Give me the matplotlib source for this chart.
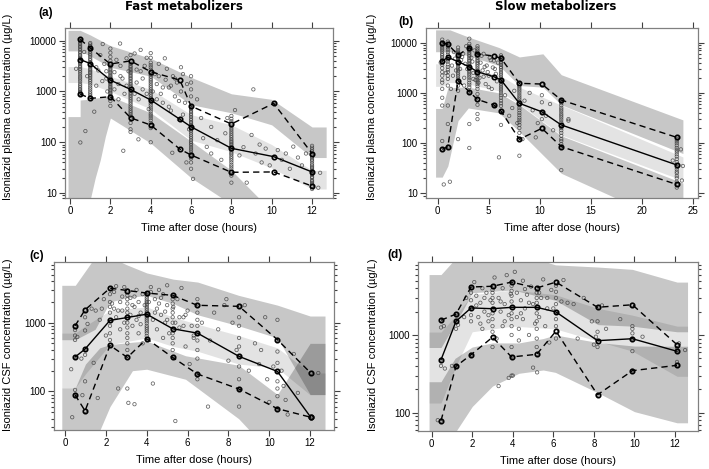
import matplotlib.pyplot as plt
import matplotlib.ticker as mticker

plt.rcParams['font.family'] = ['Liberation Sans', 'DejaVu Sans']

# ---------------- (a) fast metabolizers, plasma ----------------
a_pct_t = [0.5, 1, 2, 3, 4, 5.45, 6, 8, 10.1, 12]
a_p95 = [10600, 7200, 3480, 4000, 2450, 1670, 515, 229, 583, 60]
a_p50 = [4260, 3550, 1670, 1100, 680, 283, 202, 76, 52, 26]
a_p05 = [890, 730, 790, 303, 218, 73, 56, 25.6, 26, 13.7]

a_up_t = [-0.1, 0.5, 1, 2, 4, 6, 8, 10, 12, 12.7]
a_up_hi = [16000, 16000, 13000, 8000, 4500, 1900, 900, 700, 200, 200]
a_up_lo = [6300, 6300, 5000, 3000, 2000, 550, 380, 220, 50, 50]
a_med_t = [-0.1, 0.5, 1, 2, 4, 6, 8, 10, 12, 12.7]
a_med_hi = [3100, 3100, 2800, 2000, 1100, 350, 220, 90, 28, 28]
a_med_lo = [1500, 1500, 1400, 1000, 450, 110, 65, 31, 12, 12]
a_low_t = [-0.1, 0.5, 0.5, 0.9, 1.25, 1.5, 1.75, 2, 4, 6, 8, 9.5, 12.7]
a_low_hi = [320, 320, 680, 700, 740, 760, 780, 800, 380, 105, 28, 7, 3]
a_low_lo = [3, 3, 3, 5, 20, 45, 130, 300, 96, 20, 6, 3, 3]

a_cols = {
    0.5: [10500, 10100, 9800, 9200, 8600, 8000, 7500, 7000, 6500, 6000, 5600, 5200, 4900,
          4600, 4300, 4000, 3700, 3450, 3200, 3000, 2800, 2600, 2400, 2200, 2000, 1850, 1700,
          1550, 1400, 1300, 1200, 1120, 1050, 990, 950, 890, 870],
    1: [9000, 8400, 7800, 7200, 6600, 6100, 5600, 5200, 4800, 4400, 4100, 3800, 3550, 3300,
        3000, 2800, 2600, 2450, 2300, 2150, 2000, 1850, 1700, 1580, 1450, 1320, 1200, 1100,
        1000, 920, 850, 780, 730],
    2: [7000, 5800, 4800, 4000, 3480, 3200, 3000, 2800, 2600, 2450, 2300, 2150, 2000, 1900,
        1800, 1670, 1580, 1500, 1400, 1300, 1220, 1150, 1070, 1000, 940, 880, 830, 790, 650,
        520],
    3: [5200, 4000, 3500, 3200, 3000, 2800, 2600, 2450, 2300, 2150, 2000, 1870, 1750, 1620,
        1500, 1400, 1300, 1200, 1100, 1020, 950, 880, 820, 760, 700, 650, 600, 550, 500, 460,
        420, 390, 360, 330, 303, 240, 180, 160],
    4: [5700, 4600, 3700, 3300, 3000, 2700, 2450, 2250, 2100, 1950, 1800, 1670, 1550, 1420,
        1300, 1200, 1100, 1020, 950, 870, 800, 740, 680, 630, 580, 530, 480, 440, 400, 360,
        330, 300, 270, 240, 218, 190, 100],
    6: [2000, 1500, 1100, 800, 515, 480, 450, 420, 390, 365, 340, 315, 290, 270, 250, 235,
        220, 202, 190, 180, 168, 155, 142, 130, 120, 110, 102, 95, 88, 80, 74, 68, 62, 56, 52,
        48, 40, 30],
    8: [330, 290, 260, 229, 210, 190, 175, 160, 147, 135, 125, 115, 107, 100, 94, 88, 82,
        76, 71, 66, 61, 57, 52, 48, 44, 40, 36, 33, 30, 26, 24, 22, 16],
    12: [85, 78, 72, 66, 60, 56, 52, 48, 45, 42, 38, 35, 33, 31, 29, 27, 26, 24, 23, 21, 20,
         18, 17, 16, 15, 14, 13.7, 12],
}
a_obs_t = [0.76, 0.51, 0.3, 0.7, 0.85, 1.2, 1.3, 1.4, 1.5, 1.62, 1.7, 1.8, 1.85, 2.2, 2.3,
           2.4, 2.48, 2.5, 2.6, 2.64, 2.7, 2.8, 2.9, 3.2, 3.3, 3.39, 3.4, 3.5, 3.5, 3.6, 3.7,
           3.8, 3.9, 4.2, 4.3, 4.4, 4.5, 4.6, 4.7, 4.74, 4.8, 4.9, 5.0, 5.07, 5.1, 5.2, 5.3,
           5.4, 5.5, 5.5, 5.6, 5.7, 5.77, 5.8, 5.9, 6.1, 6.3, 6.5, 6.6, 6.78, 7.0, 7.0, 7.3,
           7.5, 7.7, 7.8, 8.18, 8.4, 8.6, 8.76, 9.0, 9.09, 9.2, 9.4, 9.5, 9.7, 9.9, 10.1,
           10.3, 10.5, 10.7, 10.9, 11.07, 11.3, 11.5, 11.7, 12.31, 12.4, 2.2, 2.5, 2.8, 3.3,
           3.6, 3.8, 4.3, 4.6, 4.9, 5.2, 5.4, 5.6, 1.3, 1.6, 1.8, 2.4, 3.2, 4.1, 4.4, 5.0]
a_obs_c = [166, 99, 2800, 6000, 2000, 400, 1300, 2600, 5200, 8600, 3500, 1800, 1000, 2400,
           4200, 1400, 8800, 3200, 1800, 68, 900, 4500, 2500, 5600, 1500, 114, 700, 6600, 2500,
           1100, 3200, 4600, 450, 2200, 1400, 3500, 900, 600, 4500, 1700, 2800, 1200, 420, 62,
           2000, 800, 1500, 280, 1000, 3000, 2200, 600, 40, 1400, 180, 19, 700, 300, 120, 81,
           200, 60, 110, 45, 150, 300, 430, 55, 80, 16, 139, 1100, 60, 90, 40, 75, 35, 583,
           70, 45, 60, 30, 82, 50, 35, 60, 12.7, 25, 1100, 2000, 1300, 2700, 1800, 900, 700,
           1200, 500, 1800, 650, 350, 3000, 1600, 2500, 700, 900, 1000, 2000, 1300]

# ---------------- (b) slow metabolizers, plasma ----------------
b_pct_t = [0.45, 1, 2, 3.1, 3.9, 5.5, 6.2, 8, 10.2, 12.1, 23.4]
b_p95 = [10000, 9300, 5700, 7900, 5950, 5430, 4900, 1550, 1500, 720, 130]
b_p50 = [4300, 5100, 4200, 3300, 2630, 2100, 1810, 620, 420, 230, 36.7]
b_p05 = [75, 85, 1750, 1050, 740, 575, 435, 119, 197, 85, 15]

b_up_t = [-0.2, 1.2, 3, 6, 8, 10.3, 12.1, 24]
b_up_hi = [18000, 18000, 13000, 8000, 5200, 6000, 2300, 290]
b_up_lo = [6600, 6600, 5500, 3500, 1400, 1300, 580, 62]
b_med_t = [-0.2, 0.45, 1, 2, 3, 6, 8, 12.1, 24]
b_med_hi = [3800, 3800, 3500, 3200, 2900, 2300, 1300, 570, 53]
b_med_lo = [1350, 1350, 1600, 1600, 1500, 1100, 600, 145, 18]
b_low_t = [-0.2, 0.45, 1, 2, 3, 6, 8, 12.1, 24]
b_low_hi = [490, 490, 1250, 1300, 1300, 1000, 580, 140, 16]
b_low_lo = [21, 21, 35, 280, 500, 400, 170, 25, 2]

b_cols = {
    0.45: [11500, 10000, 9200, 8500, 7800, 7200, 6600, 6000, 5600, 5200, 4800, 4300, 3900,
           3600, 3100, 2600, 2200, 1800, 1600, 1200, 800, 560, 110, 75],
    1.0: [10500, 9300, 8600, 8000, 7200, 6500, 5800, 5100, 4600, 4200, 3700, 3300, 2900,
          2600, 2200, 1900, 1400, 560, 240, 85],
    2.0: [8000, 7000, 6500, 6200, 5900, 5700, 5300, 5000, 4600, 4200, 3900, 3600, 3300, 3000,
          2750, 2500, 2300, 2100, 1900, 1750, 1400, 1100, 120],
    3.1: [12000, 9500, 8600, 7900, 7300, 6800, 6300, 5800, 5400, 5000, 4600, 4300, 4000, 3700,
          3500, 3300, 3000, 2800, 2600, 2400, 2200, 2000, 1800, 1600, 1450, 1300, 1050, 240,
          80],
    3.9: [8500, 7700, 7000, 6400, 5950, 5500, 5000, 4600, 4300, 4000, 3700, 3400, 3100, 2850,
          2630, 2400, 2200, 2000, 1800, 1650, 1500, 1350, 1200, 950, 740, 580, 380, 300],
    6.2: [5600, 5200, 4900, 4500, 4200, 3900, 3600, 3300, 3100, 2850, 2600, 2400, 2200, 2000,
          1810, 1680, 1550, 1420, 1300, 1200, 1100, 1000, 900, 800, 700, 620, 550, 435, 230],
    8.0: [1550, 1400, 1300, 1200, 1100, 1000, 900, 820, 750, 680, 620, 560, 500, 450, 400,
          360, 320, 290, 260, 230, 200, 160, 119, 56],
    10.2: [1500, 900, 650, 420, 300, 197],
    12.1: [720, 660, 620, 560, 500, 460, 420, 380, 350, 320, 290, 260, 230, 200, 180, 160,
           140, 120, 110, 95, 85, 29],
    23.4: [130, 120, 110, 100, 90, 80, 72, 66, 60, 54, 48, 42, 36, 33, 30, 27, 25, 22, 20, 17,
           15, 13],
}
b_obs_t = [0.6, 0.3, 0.8, 1.2, 1.4, 1.6, 1.8, 2.3, 2.5, 2.6, 2.8, 2.9, 3.3, 3.5, 3.6, 3.7,
           4.2, 4.4, 4.5, 4.7, 4.8, 5.0, 5.2, 5.3, 5.5, 5.6, 5.8, 5.9, 6.0, 6.6, 7.0, 7.3,
           7.5, 7.8, 8.3, 8.5, 9.0, 9.3, 9.6, 9.8, 10.6, 11.0, 11.3, 12.8, 12.8, 23.0, 23.8,
           24.0, 23.9, 1.5, 1.7, 2.2, 2.4, 2.7, 3.4, 4.1, 4.3, 4.6, 4.9, 5.1, 5.4, 5.7, 1.3,
           2.6, 3.5, 4.0, 4.5, 5.0, 5.5]
b_obs_c = [15, 4000, 2500, 17, 3500, 6500, 2800, 4500, 6000, 2000, 8500, 3000, 5000, 2500,
           7000, 1800, 4000, 2800, 6000, 1500, 3500, 2200, 4500, 1200, 575, 3000, 1700, 4000,
           52, 900, 350, 500, 1100, 250, 120, 700, 1000, 450, 130, 250, 350, 600, 180, 300,
           280, 45, 75, 35, 18, 2200, 4800, 3000, 5200, 3800, 4200, 2000, 5500, 3300, 2600,
           5000, 3200, 2400, 1200, 1400, 1900, 1600, 2100, 1300, 4400]

# ---------------- (c) fast metabolizers, CSF ----------------
c_pct_t = [0.49, 0.98, 2.2, 3.05, 4.0, 5.27, 6.48, 8.52, 10.4, 12.03]
c_p95 = [900, 1540, 3180, 2940, 2700, 2500, 1790, 1730, 565, 185]
c_p50 = [316, 413, 1080, 1190, 1330, 815, 705, 323, 195, 42]
c_p05 = [89, 52, 467, 312, 583, 312, 179, 108, 56, 42]

c_up_t = [-0.16, 0.5, 1.47, 2.2, 3, 4, 5.3, 6.5, 8.5, 10.4, 12.0, 12.73]
c_up_hi = [3500, 3500, 9000, 9000, 7000, 5300, 4300, 3900, 2500, 1800, 1250, 1250]
c_up_lo = [565, 565, 800, 2000, 2300, 2500, 1900, 1300, 900, 600, 90, 90]
c_med_t = [-0.16, 0.5, 1.0, 2.2, 4, 5.3, 6.5, 8.5, 10.4, 12.0, 12.73]
c_med_hi = [705, 705, 900, 1500, 1700, 1200, 950, 650, 430, 185, 185]
c_med_lo = [112, 112, 180, 480, 600, 450, 383, 250, 218, 89, 89]
c_low_t = [-0.16, 0.5, 1.0, 1.7, 2.2, 3.3, 4, 5.9, 8.5, 10.4, 12.0, 12.73]
c_low_hi = [112, 112, 250, 430, 480, 520, 540, 330, 240, 90, 500, 500]
c_low_lo = [5, 5, 15, 27, 60, 200, 210, 150, 40, 10, 5, 5]

c_cols = {
    0.49: [900, 780, 650, 560, 316, 105, 89, 85],
    0.98: [1540, 1200, 770, 413, 340, 140, 52],
    2.2: [3180, 2600, 2000, 1700, 1400, 1080, 900, 700, 560, 467],
    3.05: [2940, 2500, 2200, 1900, 1600, 1400, 1190, 1000, 850, 700, 600, 500, 400, 312, 110],
    4.0: [2700, 2550, 2400, 2250, 2100, 2000, 1900, 1800, 1700, 1600, 1500, 1410, 1330, 1260,
          1200, 1120, 1050, 980, 900, 850, 800, 750, 700, 640, 583],
    5.27: [2500, 2200, 1900, 1600, 1400, 1200, 1000, 815, 700, 600, 500, 400, 312],
    6.48: [2200, 1790, 1400, 1100, 900, 705, 550, 400, 300, 179, 150],
    8.52: [1730, 1200, 900, 600, 450, 323, 230, 150, 108, 60],
    10.4: [1100, 565, 380, 260, 195, 140, 110, 85, 56],
    12.03: [185, 42],
}
c_obs_t = [0.3, 0.35, 0.6, 0.8, 0.85, 1.1, 1.3, 1.4, 1.5, 1.6, 1.7, 1.8, 1.9, 2.0, 2.4, 2.5,
           2.5, 2.6, 2.7, 2.7, 2.8, 2.9, 3.1, 3.2, 3.3, 3.4, 3.4, 3.5, 3.5, 3.6, 3.6, 3.7, 3.8,
           3.8, 3.9, 4.2, 4.3, 4.3, 4.4, 4.5, 4.5, 4.6, 4.7, 4.8, 4.8, 4.9, 5.0, 5.0, 5.1, 5.4,
           5.5, 5.6, 5.7, 5.8, 5.9, 6.0, 6.1, 6.3, 6.7, 7.0, 7.1, 7.3, 7.5, 7.8, 7.9, 8.0, 8.2,
           8.4, 8.8, 9.0, 9.3, 9.5, 9.6, 9.8, 9.9, 10.0, 10.2, 10.6, 10.7, 10.8, 10.9, 11.2,
           11.4, 12.4, 2.3, 2.6, 2.9, 3.2, 3.4, 3.7, 4.1, 4.4, 4.7, 5.0, 5.3, 5.6, 5.9, 6.2,
           2.4, 2.8, 3.3, 3.6, 4.2, 4.6, 4.9, 5.4, 5.8, 6.3]
c_obs_c = [210, 42, 620, 300, 88, 960, 1600, 260, 1500, 80, 1100, 1600, 2200, 650, 2800,
           1200, 3400, 110, 2000, 800, 1500, 3300, 68, 2300, 900, 65, 1700, 3000, 1100, 2000,
           700, 1400, 2600, 500, 1800, 3300, 1100, 130, 2200, 800, 1600, 3000, 1300, 600, 2600,
           1000, 3500, 1800, 700, 37, 2200, 1200, 3200, 900, 450, 1500, 250, 650, 1000, 60,
           550, 1400, 800, 1800, 2200, 280, 1000, 400, 1800, 200, 500, 250, 400, 1200, 150, 70,
           230, 200, 120, 75, 46, 350, 95, 185, 1900, 1500, 1000, 1300, 2400, 950, 2000, 1400,
           2300, 1100, 1700, 850, 1300, 900, 1600, 2400, 1800, 1250, 2800, 1900, 1450, 1000,
           1200, 600]

# ---------------- (d) slow metabolizers, CSF ----------------
d_pct_t = [0.46, 1.2, 1.94, 3.0, 3.94, 5.18, 6.13, 8.18, 9.9, 12.1]
d_p95 = [1550, 1860, 4150, 4240, 4800, 4030, 4800, 2275, 2450, 750]
d_p50 = [480, 1500, 2230, 2180, 2270, 2270, 1980, 845, 895, 617]
d_p05 = [79, 395, 557, 935, 521, 564, 1120, 170, 347, 407]

d_up_t = [-0.13, 0.46, 1.5, 2, 4, 6.1, 8.2, 9.9, 12.1, 12.62]
d_up_hi = [6000, 6000, 12000, 12000, 12000, 8000, 7500, 7000, 4800, 4800]
d_up_lo = [690, 690, 2000, 3500, 3800, 2800, 1360, 1300, 1100, 1100]
d_med_t = [-0.13, 0.46, 1.2, 2, 4, 6.1, 8.2, 9.9, 12.1, 12.62]
d_med_hi = [1090, 1090, 1800, 3300, 3800, 3300, 2200, 1800, 1300, 1300]
d_med_lo = [133, 133, 400, 1100, 1300, 1200, 830, 620, 294, 294]
d_low_t = [-0.13, 0.46, 1.15, 2, 3, 4.3, 5.5, 6.1, 8.2, 10, 12.1, 12.62]
d_low_hi = [250, 250, 500, 700, 790, 790, 900, 1000, 800, 720, 716, 716]
d_low_lo = [40, 40, 55, 120, 220, 321, 354, 330, 180, 103, 74, 74]

d_cols = {
    0.46: [1550, 1250, 480, 400, 79],
    1.2: [1860, 1500, 1200, 395],
    1.94: [4150, 3500, 2800, 2230, 1800, 1500, 557],
    3.0: [4240, 3500, 3000, 2600, 2180, 1900, 1600, 1300, 1100, 935, 700],
    3.94: [4800, 4300, 3700, 3200, 2700, 2270, 1900, 1600, 1300, 1000, 700, 521, 300],
    5.18: [4030, 3500, 3000, 2600, 2270, 1900, 1500, 1200, 900, 700, 564],
    6.13: [4800, 4300, 3600, 3000, 2500, 1980, 1600, 1300, 1120, 900],
    8.18: [2275, 1500, 1100, 845, 700, 170],
    9.9: [2450, 1300, 1050, 895, 620, 347],
    12.1: [750, 680, 617, 450, 407],
}
d_obs_t = [0.3, 0.6, 0.65, 1.3, 1.0, 1.6, 1.7, 2.1, 2.2, 2.3, 2.4, 2.5, 2.5, 2.6, 2.7, 2.8,
           2.9, 3.1, 3.2, 3.3, 3.3, 3.4, 3.5, 3.5, 3.6, 3.7, 3.8, 3.8, 4.0, 4.1, 4.2, 4.3, 4.3,
           4.4, 4.5, 4.5, 4.6, 4.7, 4.8, 4.9, 5.0, 5.0, 5.2, 5.3, 5.4, 5.5, 5.6, 5.7, 5.8, 5.9,
           6.4, 6.5, 6.7, 7.0, 7.2, 7.5, 7.9, 8.0, 8.1, 8.4, 8.6, 9.3, 9.9, 10.4, 12.2, 12.5,
           2.2, 2.6, 3.0, 3.4, 3.9, 4.4, 4.8, 5.3, 5.7, 6.0, 2.4, 2.8, 3.6, 4.2, 4.6, 5.1]
d_obs_c = [80, 1300, 370, 1350, 400, 1700, 3000, 4800, 3200, 1700, 2600, 1200, 4000, 2000,
           3500, 1500, 2800, 5500, 900, 3000, 220, 2000, 1300, 4000, 2500, 5900, 1800, 280, 300,
           6500, 3500, 1200, 850, 2800, 5000, 1600, 2200, 3300, 1000, 4200, 2500, 380, 330,
           1700, 3000, 5200, 1300, 2200, 800, 3800, 2700, 5100, 2600, 2500, 900, 3000, 1500,
           750, 950, 2400, 1200, 1600, 1200, 950, 780, 640, 2400, 3000, 3800, 2700, 3400,
           1900, 2600, 3500, 3000, 2200, 1400, 1800, 1500, 1700, 3900, 1400]

BAND = 'black'


def draw_panel(ax, bands, pct_t, p95, p50, p05, cols, obs_t, obs_c):
    for t, lo, hi, a in bands:
        ax.fill_between(t, lo, hi, color=BAND, alpha=a, linewidth=0, zorder=1)
    xs = list(obs_t)
    ys = list(obs_c)
    for t, vals in cols.items():
        xs += [t] * len(vals)
        ys += vals
    ax.scatter(xs, ys, s=6, facecolors='none', edgecolors='#3c3c3c', linewidths=0.55,
               alpha=0.8, zorder=2)
    for vals, ls in [(p95, (0, (4.5, 3))), (p50, '-'), (p05, (0, (4.5, 3)))]:
        ax.plot(pct_t, vals, linestyle=ls, color='black', lw=1.0, marker='o', ms=3.2,
                mfc='none', mec='black', mew=1.2, zorder=3)
    ax.set_yscale('log')
    ax.yaxis.set_major_formatter(mticker.FuncFormatter(lambda v, p: '%d' % v))
    ax.yaxis.set_minor_locator(mticker.LogLocator(subs=range(2, 10)))
    ax.yaxis.set_minor_formatter(mticker.NullFormatter())
    for s in ax.spines.values():
        s.set_color('#808080')
        s.set_linewidth(0.9)
    ax.tick_params(which='both', direction='out', top=True, right=True, labeltop=False,
                   labelright=False, color='#404040', labelsize=7, width=0.8, pad=2)
    ax.tick_params(which='major', length=4)
    ax.tick_params(which='minor', length=2.5)
    ax.set_xlabel('Time after dose (hours)', fontsize=8, labelpad=5)


fig = plt.figure(figsize=(7.09, 4.69), dpi=100)
ax_a = fig.add_axes([0.0917, 0.5778, 0.378, 0.3625])
ax_b = fig.add_axes([0.6008, 0.5778, 0.3836, 0.3625])
ax_c = fig.add_axes([0.0762, 0.0832, 0.3949, 0.3582])
ax_d = fig.add_axes([0.590, 0.0810, 0.3949, 0.3603])

OUT, MED = 0.22, 0.11
draw_panel(ax_a, [(a_up_t, a_up_lo, a_up_hi, OUT), (a_med_t, a_med_lo, a_med_hi, MED),
                  (a_low_t, a_low_lo, a_low_hi, OUT)],
           a_pct_t, a_p95, a_p50, a_p05, a_cols, a_obs_t, a_obs_c)
draw_panel(ax_b, [(b_up_t, b_up_lo, b_up_hi, OUT), (b_med_t, b_med_lo, b_med_hi, MED),
                  (b_low_t, b_low_lo, b_low_hi, OUT)],
           b_pct_t, b_p95, b_p50, b_p05, b_cols, b_obs_t, b_obs_c)
draw_panel(ax_c, [(c_up_t, c_up_lo, c_up_hi, OUT), (c_med_t, c_med_lo, c_med_hi, MED),
                  (c_low_t, c_low_lo, c_low_hi, OUT)],
           c_pct_t, c_p95, c_p50, c_p05, c_cols, c_obs_t, c_obs_c)
draw_panel(ax_d, [(d_up_t, d_up_lo, d_up_hi, OUT), (d_med_t, d_med_lo, d_med_hi, MED),
                  (d_low_t, d_low_lo, d_low_hi, OUT)],
           d_pct_t, d_p95, d_p50, d_p05, d_cols, d_obs_t, d_obs_c)

ax_a.set_xlim(-0.25, 13.04)
ax_a.set_ylim(7.97, 17800)
ax_a.set_xticks(range(0, 13, 2))
ax_b.set_xlim(-1.14, 25.47)
ax_b.set_ylim(8.06, 19600)
ax_b.set_xticks(range(0, 26, 5))
ax_c.set_xlim(-0.54, 13.17)
ax_c.set_ylim(27.4, 7650)
ax_c.set_xticks(range(0, 13, 2))
ax_d.set_xlim(-0.66, 13.15)
ax_d.set_ylim(58, 8700)
ax_d.set_xticks(range(0, 13, 2))

ax_a.set_yticks([10, 100, 1000, 10000])
ax_b.set_yticks([10, 100, 1000, 10000])
ax_c.set_yticks([100, 1000])
ax_d.set_yticks([100, 1000])

ylab_pl = 'Isoniazid plasma concentration (µg/L)'
ylab_csf = 'Isoniazid CSF concentration (µg/L)'
fig.text(8 / 709, 1 - 107 / 469, ylab_pl, rotation=90, ha='center', va='center', fontsize=8)
fig.text(372 / 709, 1 - 107 / 469, ylab_pl, rotation=90, ha='center', va='center', fontsize=8)
fig.text(8 / 709, 1 - 345 / 469, ylab_csf, rotation=90, ha='center', va='center', fontsize=8)
fig.text(373 / 709, 1 - 345 / 469, ylab_csf, rotation=90, ha='center', va='center', fontsize=8)

fig.text(183.5 / 709, 1 - 7 / 469, 'Fast metabolizers', ha='center', va='center',
         fontsize=8.5, fontweight='bold', family='DejaVu Sans')
fig.text(555.5 / 709, 1 - 7 / 469, 'Slow metabolizers', ha='center', va='center',
         fontsize=8.5, fontweight='bold', family='DejaVu Sans')

fig.text(45.5 / 709, 1 - 13 / 469, '(a)', ha='center', va='center', fontsize=8.5,
         fontweight='bold')
fig.text(406 / 709, 1 - 21.5 / 469, '(b)', ha='center', va='center', fontsize=8.5,
         fontweight='bold')
fig.text(37 / 709, 1 - 256.5 / 469, '(c)', ha='center', va='center', fontsize=8.5,
         fontweight='bold')
fig.text(395.5 / 709, 1 - 255 / 469, '(d)', ha='center', va='center', fontsize=8.5,
         fontweight='bold')

fig.savefig('out.png', dpi=100)
